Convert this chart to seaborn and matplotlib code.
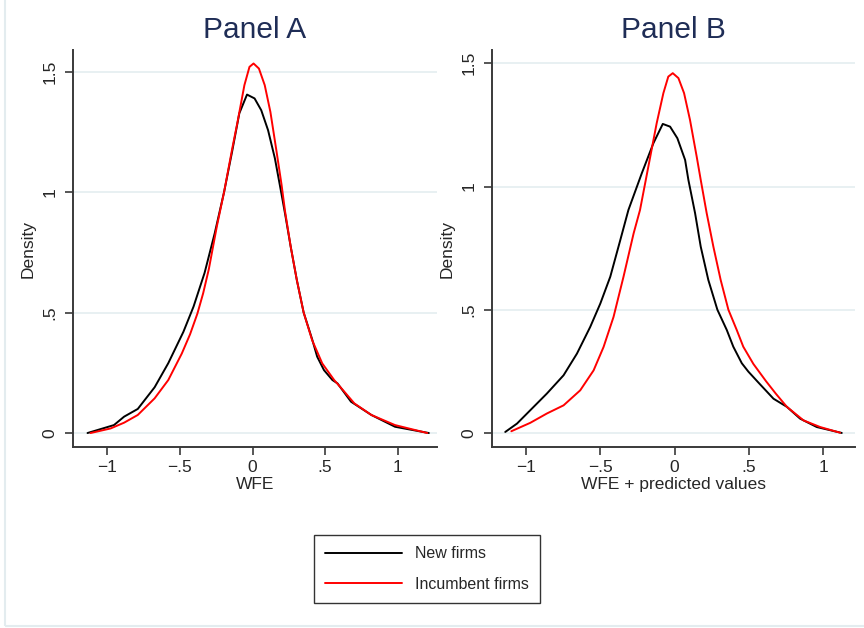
import pandas as pd
import seaborn as sns
import matplotlib
matplotlib.use('Agg')
import matplotlib.pyplot as plt
from matplotlib.patches import Rectangle

# values (kernel density estimates)
series_names = ['New firms', 'Incumbent firms']

a_new_x = [-1.136, -0.954, -0.884, -0.79, -0.674, -0.58, -0.476, -0.406, -0.33, -0.26,
           -0.196, -0.14, -0.091, -0.038, 0.014, 0.060, 0.107, 0.154, 0.2, 0.224,
           0.263, 0.305, 0.352, 0.41, 0.445, 0.492, 0.55, 0.585, 0.678, 0.818,
           0.981, 1.214]
a_new_y = [0.0, 0.033, 0.068, 0.10, 0.19, 0.29, 0.42, 0.525, 0.665, 0.83,
           1.0, 1.17, 1.327, 1.405, 1.389, 1.34, 1.257, 1.14, 0.99, 0.91,
           0.773, 0.635, 0.5, 0.39, 0.317, 0.261, 0.22, 0.206, 0.13, 0.075,
           0.026, 0.0]
a_inc_x = [-1.115, -0.977, -0.884, -0.79, -0.674, -0.58, -0.487, -0.43, -0.38, -0.34,
           -0.301, -0.245, -0.196, -0.14, -0.103, -0.056, -0.021, 0.007, 0.044, 0.084,
           0.123, 0.165, 0.2, 0.224, 0.263, 0.305, 0.352, 0.41, 0.48, 0.562,
           0.62, 0.701, 0.818, 0.981, 1.203]
a_inc_y = [0.0, 0.019, 0.043, 0.075, 0.144, 0.22, 0.33, 0.41, 0.495, 0.58,
           0.68, 0.86, 1.0, 1.18, 1.292, 1.444, 1.52, 1.534, 1.513, 1.444,
           1.333, 1.17, 1.03, 0.92, 0.773, 0.635, 0.5, 0.386, 0.289, 0.22,
           0.18, 0.123, 0.075, 0.033, 0.0]

b_new_x = [-1.138, -1.059, -0.97, -0.858, -0.746, -0.656, -0.567, -0.499, -0.432, -0.365,
           -0.31, -0.22, -0.142, -0.079, -0.03, 0.019, 0.071, 0.093, 0.138, 0.176,
           0.227, 0.288, 0.351, 0.395, 0.452, 0.496, 0.563, 0.665, 0.755, 0.844,
           0.956, 1.124]
b_new_y = [0.004, 0.038, 0.092, 0.16, 0.234, 0.322, 0.43, 0.525, 0.634, 0.782,
           0.905, 1.054, 1.176, 1.254, 1.243, 1.196, 1.108, 1.027, 0.892, 0.756,
           0.621, 0.5, 0.418, 0.35, 0.283, 0.249, 0.205, 0.139, 0.106, 0.058,
           0.024, 0.0]
b_inc_x = [-1.097, -0.97, -0.858, -0.746, -0.634, -0.544, -0.477, -0.41, -0.343, -0.275,
           -0.232, -0.176, -0.12, -0.075, -0.042, -0.012, 0.026, 0.064, 0.104, 0.149,
           0.176, 0.216, 0.261, 0.31, 0.362, 0.418, 0.462, 0.53, 0.615, 0.68,
           0.755, 0.867, 0.979, 1.113]
b_inc_y = [0.007, 0.041, 0.079, 0.112, 0.173, 0.254, 0.349, 0.471, 0.634, 0.81,
           0.905, 1.081, 1.257, 1.379, 1.446, 1.46, 1.44, 1.379, 1.27, 1.121,
           1.027, 0.892, 0.756, 0.621, 0.5, 0.418, 0.35, 0.28, 0.21, 0.16,
           0.106, 0.051, 0.024, 0.001]

x_ticks = [-1, -0.5, 0, 0.5, 1]
x_tick_labels = ['\u22121', '\u2212.5', '0', '.5', '1']
y_ticks = [0, 0.5, 1, 1.5]
y_tick_labels = ['0', '.5', '1', '1.5']

sns.set_style('white')
plt.rcParams['font.family'] = ['Liberation Sans', 'DejaVu Sans']

GRID = '#e6eff1'
SPINE = '#3a3a3a'
TITLE = '#1f2d56'


def frame(new_x, new_y, inc_x, inc_y):
    return pd.concat([
        pd.DataFrame({'x': new_x, 'Density': new_y, 'Firms': series_names[0]}),
        pd.DataFrame({'x': inc_x, 'Density': inc_y, 'Firms': series_names[1]}),
    ], ignore_index=True)


def draw_panel(ax, df, title, xlabel, xlim, ylim):
    sns.lineplot(
        data=df, x='x', y='Density', hue='Firms',
        hue_order=series_names,
        palette=['black', '#ff0000'],
        sort=False, estimator=None,
        linewidth=1.4, ax=ax, legend=False,
        solid_joinstyle='round',
    )
    ax.set_xlim(*xlim)
    ax.set_ylim(*ylim)
    for v in y_ticks:
        ax.axhline(v, color=GRID, linewidth=1.3, zorder=0)
    ax.set_xticks(x_ticks, x_tick_labels)
    ax.set_yticks(y_ticks, y_tick_labels)
    for lab in ax.get_yticklabels():
        lab.set_rotation(90)
        lab.set_va('center')
    ax.tick_params(axis='both', direction='out', length=6, width=1.2,
                   color=SPINE, labelsize=12.5, left=True, bottom=True)
    ax.tick_params(axis='x', pad=3)
    ax.tick_params(axis='y', pad=5)
    for side in ['top', 'right']:
        ax.spines[side].set_visible(False)
    for side in ['left', 'bottom']:
        ax.spines[side].set_color(SPINE)
        ax.spines[side].set_linewidth(1.4)
    ax.set_title(title, fontsize=21.5, color=TITLE, pad=9)
    ax.set_xlabel(xlabel, fontsize=12.5, labelpad=2)
    ax.set_ylabel('Density', fontsize=12.5, labelpad=5)


fig = plt.figure(figsize=(8.64, 6.28), dpi=100)
ax_a = fig.add_axes([73 / 864, 1 - 447 / 628, 364 / 864, 397 / 628])
ax_b = fig.add_axes([492 / 864, 1 - 447 / 628, 363 / 864, 397 / 628])

draw_panel(ax_a, frame(a_new_x, a_new_y, a_inc_x, a_inc_y),
           'Panel A', 'WFE', (-1.236, 1.27), (-0.058, 1.59))
draw_panel(ax_b, frame(b_new_x, b_new_y, b_inc_x, b_inc_y),
           'Panel B', 'WFE + predicted values', (-1.227, 1.213), (-0.057, 1.554))

handles = ax_a.get_lines()[:2]
leg = fig.legend(
    handles, series_names,
    loc='center', bbox_to_anchor=(427 / 864, 1 - 569 / 628),
    fontsize=11.5, frameon=True, fancybox=False, edgecolor='black',
    handlelength=4.8, handletextpad=0.8, labelspacing=0.95,
    borderpad=0.7, borderaxespad=0,
)
leg.get_frame().set_linewidth(1.0)

# light outer border of the graph region
fig.add_artist(Rectangle((5 / 864, 2 / 628), 870 / 864, 640 / 628,
                         transform=fig.transFigure, fill=False,
                         edgecolor='#e3ecef', linewidth=1.5))

plt.savefig('out.png', dpi=100)
